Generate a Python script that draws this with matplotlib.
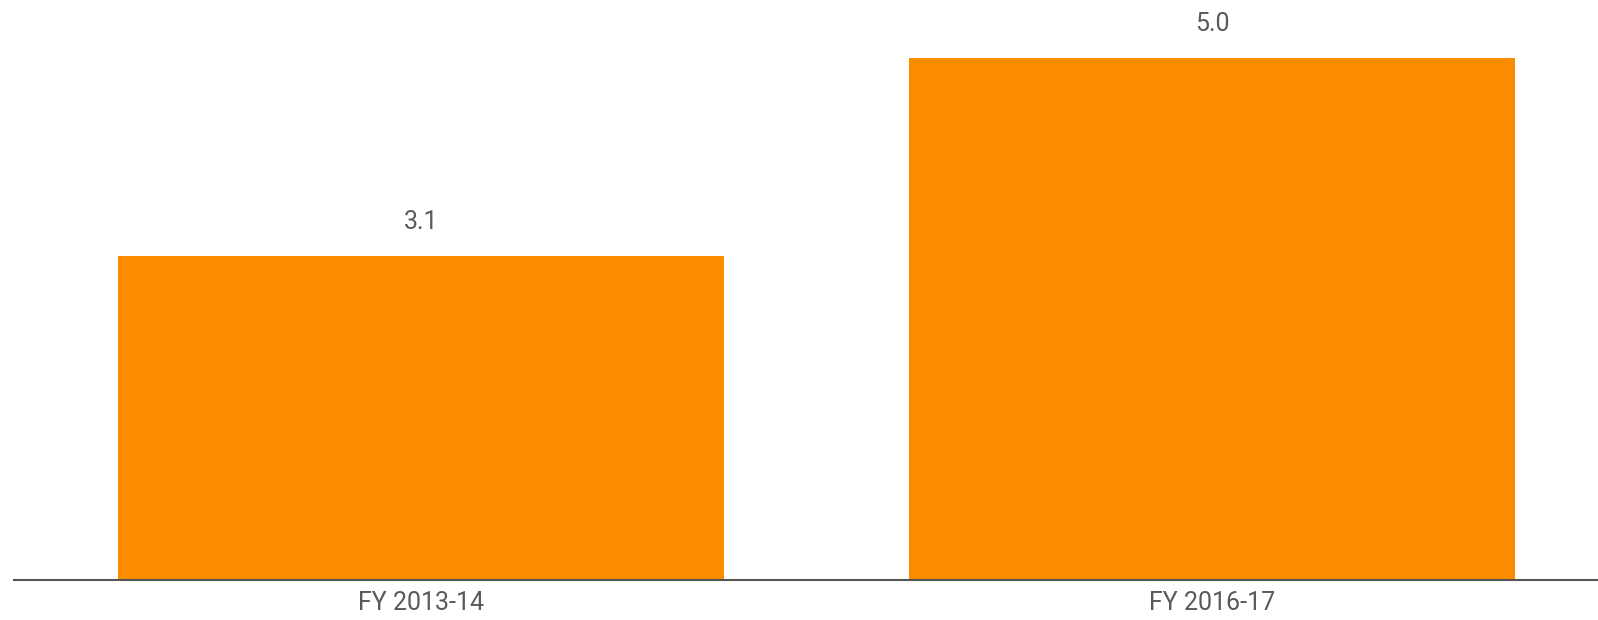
import matplotlib
matplotlib.use("Agg")
import matplotlib.pyplot as plt

categories = ["FY 2013-14", "FY 2016-17"]
values = [3.1, 5.0]
labels = ["3.1", "5.0"]

BAR = "#FB8C00"
TXT = "#5a5a5a"

plt.rcParams["font.family"] = ["Roboto", "DejaVu Sans"]

fig = plt.figure(figsize=(15.98, 6.2), dpi=100)
ax = fig.add_axes([14 / 1598, 40 / 620, 1 - 14 / 1598, 580 / 620])

x = list(range(len(categories)))
ax.bar(x, values, width=0.766, color=BAR, zorder=2)

for xi, v, lab in zip(x, values, labels):
    ax.annotate(lab, (xi, v), textcoords="offset points", xytext=(0, 16),
                ha="center", va="bottom", fontsize=18, color=TXT)

ax.set_xlim(-0.515, 1.488)
ax.set_ylim(0, 5.556)
ax.set_xticks(x)
ax.set_xticklabels(categories, fontsize=18, color=TXT)
ax.tick_params(axis="x", length=0, pad=8)
ax.set_yticks([])

for side in ("top", "right", "left"):
    ax.spines[side].set_visible(False)
ax.spines["bottom"].set_color("#555555")
ax.spines["bottom"].set_linewidth(1.5)
ax.spines["bottom"].set_zorder(3)

fig.savefig("out.png", dpi=100)
